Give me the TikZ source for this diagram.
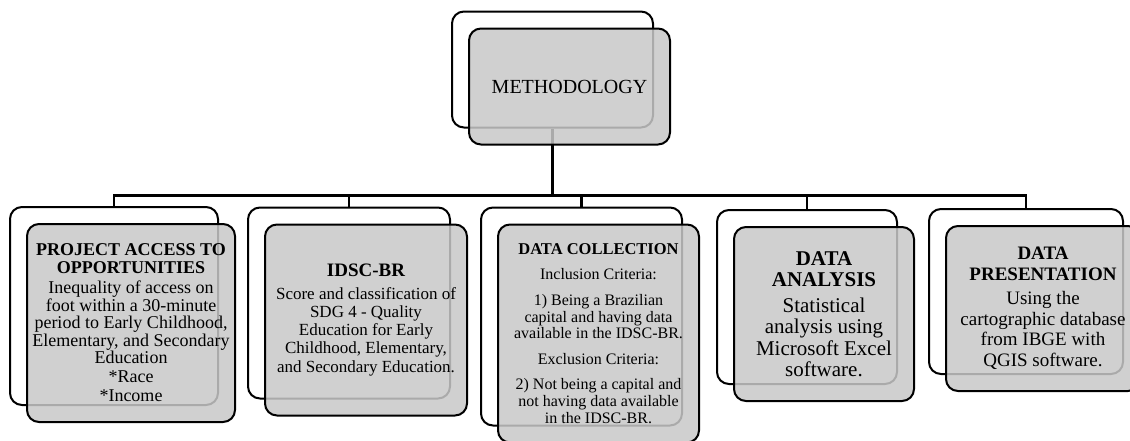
\documentclass[tikz,border=0pt]{standalone}
\usepackage{fontspec}
\setmainfont{Liberation Serif}

\begin{document}
\begin{tikzpicture}[x=1pt,y=-1pt,
  backbox/.style={draw=black, line width=2pt, rounded corners=12pt, fill=white, inner sep=0pt},
  frontbox/.style={draw=black, line width=2pt, rounded corners=12pt,
    fill={rgb,255:red,200;green,200;blue,200}, fill opacity=0.85, text opacity=1,
    inner sep=2pt, align=center},
  link/.style={draw=black, line width=2.3pt}]
\useasboundingbox (0,0) rectangle (1130,440);
% back cards
\node[backbox, minimum width=201pt, minimum height=116pt] (mb) at (552.5,69.5) {};
\node[backbox, minimum width=208pt, minimum height=198pt] (b1) at (114,306) {};
\node[backbox, minimum width=202pt, minimum height=191pt] (b2) at (349,303) {};
\node[backbox, minimum width=201pt, minimum height=218pt] (b3) at (581.5,316.5) {};
\node[backbox, minimum width=180pt, minimum height=174pt] (b4) at (807,297) {};
\node[backbox, minimum width=194pt, minimum height=165pt] (b5) at (1026,291.5) {};
% tree lines
\path (mb.south) ++(0,67) coordinate (bus);
\draw[link] (mb.south) -- (bus);
\foreach \i in {1,...,5} \draw[link] (bus) -| (b\i.north);
% front cards
\node[frontbox, minimum width=201pt, minimum height=116pt, font=\fontsize{20}{22}\selectfont] (mf) at ([shift={(17,17)}]mb.center) {METHODOLOGY};
\node[frontbox, minimum width=208pt, minimum height=198pt, font=\fontsize{18}{17.5}\selectfont] (f1) at ([shift={(17,17)}]b1.center) {\textbf{PROJECT ACCESS TO}\\\textbf{OPPORTUNITIES}\\[3pt]
  Inequality of access on\\foot within a 30-minute\\period to Early Childhood,\\Elementary, and Secondary\\Education\\[1.5pt]*Race\\[1.5pt]*Income};
\node[frontbox, minimum width=202pt, minimum height=191pt, font=\fontsize{17}{18.3}\selectfont] (f2) at ([shift={(17,17)}]b2.center) {{\fontsize{19}{22}\selectfont\bfseries IDSC-BR}\\[4pt]
  Score and classification of\\SDG 4 - Quality\\Education for Early\\Childhood, Elementary,\\and Secondary Education.};
\node[frontbox, minimum width=201pt, minimum height=218pt, font=\fontsize{16}{16.8}\selectfont] (f3) at ([shift={(17,17)}]b3.center) {{\fontsize{16.5}{18}\selectfont\bfseries DATA COLLECTION}\\[8.5pt]
  Inclusion Criteria:\\[8.5pt]1) Being a Brazilian\\capital and having data\\available in the IDSC-BR.\\[8.5pt]
  Exclusion Criteria:\\[8.5pt]2) Not being a capital and\\not having data available\\in the IDSC-BR.};
\node[frontbox, minimum width=180pt, minimum height=174pt, font=\fontsize{21}{21.5}\selectfont] (f4) at ([shift={(17,17)}]b4.center) {\textbf{DATA}\\\textbf{ANALYSIS}\\[4pt]
  Statistical\\analysis using\\Microsoft Excel\\software.};
\node[frontbox, minimum width=194pt, minimum height=165pt, font=\fontsize{19}{20.5}\selectfont] (f5) at ([shift={(17,17)}]b5.center) {\textbf{DATA}\\\textbf{PRESENTATION}\\[4pt]
  Using the\\cartographic database\\from IBGE with\\QGIS software.};
\end{tikzpicture}
\end{document}
